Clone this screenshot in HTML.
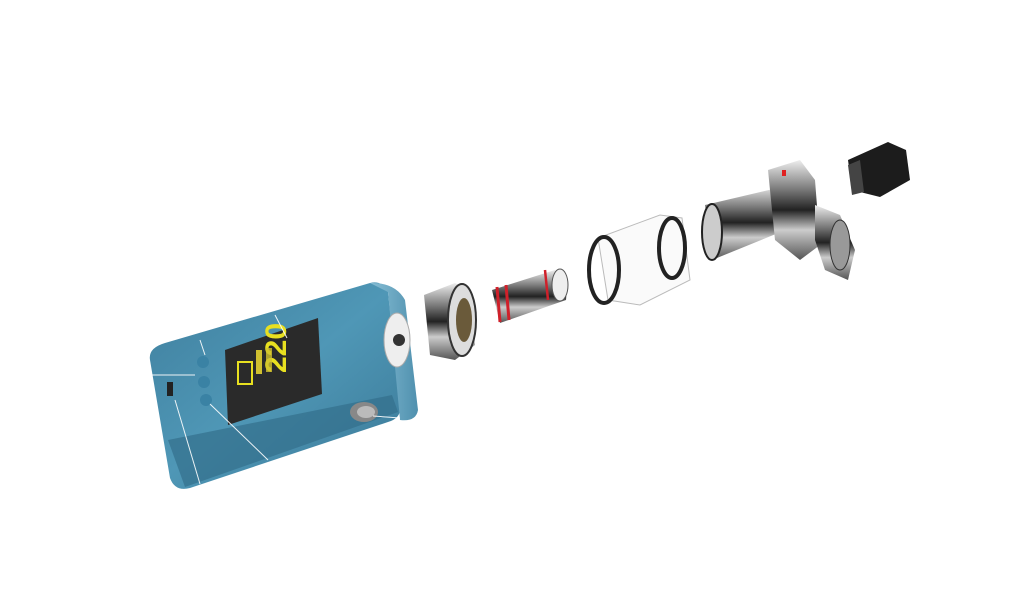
<!DOCTYPE html>
<html><head><meta charset="utf-8"><style>
html,body{margin:0;padding:0;background:#fff;width:1019px;height:602px;overflow:hidden}
svg{display:block}
</style></head><body>
<svg width="1019" height="602" viewBox="0 0 1019 602" xmlns="http://www.w3.org/2000/svg">
<defs>
<linearGradient id="body" x1="0" y1="0" x2="1" y2="1">
<stop offset="0" stop-color="#3f7f9e"/><stop offset="0.5" stop-color="#4f97b6"/><stop offset="1" stop-color="#3a7896"/></linearGradient>
<linearGradient id="side" x1="0" y1="0" x2="1" y2="0">
<stop offset="0" stop-color="#86bdd4"/><stop offset="1" stop-color="#4f90ae"/></linearGradient>
<linearGradient id="met" x1="0" y1="0" x2="0" y2="1">
<stop offset="0" stop-color="#eee"/><stop offset="0.3" stop-color="#777"/><stop offset="0.5" stop-color="#222"/><stop offset="0.7" stop-color="#ccc"/><stop offset="1" stop-color="#555"/></linearGradient>
</defs>
<path d="M150,360 Q148,348 165,343 L370,283 Q382,280 388,292 L400,405 Q402,418 388,422 L190,488 Q175,492 170,478 Z" fill="url(#body)"/>
<path d="M370,283 Q395,282 405,300 L418,410 Q416,422 400,420 L388,292 Z" fill="url(#side)"/>
<path d="M168,440 L392,395 L398,412 L185,487 Z" fill="#336f8c" opacity="0.7"/>
<path d="M225,350 L318,318 L322,394 L228,425 Z" fill="#2a2a2a"/>
<text x="0" y="0" transform="translate(286,373) rotate(-90)" font-family="Liberation Sans,sans-serif" font-weight="bold" font-size="30" fill="#e8e020">220</text>
<rect x="238" y="362" width="14" height="22" fill="none" stroke="#e8e020" stroke-width="2"/>
<rect x="256" y="350" width="6" height="24" fill="#d0c030"/>
<rect x="266" y="348" width="6" height="24" fill="#d0c030" opacity="0.8"/>
<circle cx="203" cy="362" r="6" fill="#3a82a4"/>
<circle cx="204" cy="382" r="6" fill="#3a82a4"/>
<circle cx="206" cy="400" r="6" fill="#3a82a4"/>
<rect x="167" y="382" width="6" height="14" fill="#222"/>
<ellipse cx="397" cy="340" rx="13" ry="27" fill="#eee" stroke="#aaa"/>
<circle cx="399" cy="340" r="6" fill="#333"/>
<ellipse cx="364" cy="412" rx="14" ry="10" fill="#888"/>
<ellipse cx="366" cy="412" rx="9" ry="6" fill="#bbb"/>
<g stroke="#fff" stroke-width="1" opacity="0.9">
<line x1="143" y1="375" x2="195" y2="375"/><line x1="275" y1="315" x2="287" y2="338"/>
<line x1="200" y1="340" x2="205" y2="355"/><line x1="210" y1="404" x2="268" y2="460"/>
<line x1="175" y1="400" x2="200" y2="484"/><line x1="373" y1="416" x2="400" y2="418"/>
</g>
<path d="M424,295 L455,283 L470,290 L475,345 L455,360 L430,355 Z" fill="url(#met)"/>
<ellipse cx="462" cy="320" rx="14" ry="36" fill="#ddd" stroke="#333" stroke-width="2"/>
<ellipse cx="464" cy="320" rx="8" ry="22" fill="#6a5a3a"/>
<path d="M492,290 L555,270 Q568,282 566,300 L500,323 Z" fill="url(#met)"/>
<ellipse cx="560" cy="285" rx="8" ry="16" fill="#eee" stroke="#555"/>
<path d="M497,287 L500,322 M506,285 L509,320" stroke="#d0202a" stroke-width="3" fill="none"/>
<path d="M545,270 L548,300" stroke="#d0202a" stroke-width="2.5"/>
<path d="M598,238 L660,215 L682,218 L690,280 L640,305 L608,300 Z" fill="#fafafa" stroke="#bbb"/>
<ellipse cx="604" cy="270" rx="15" ry="33" fill="none" stroke="#222" stroke-width="4"/>
<ellipse cx="672" cy="248" rx="13" ry="30" fill="none" stroke="#222" stroke-width="4"/>
<path d="M705,205 L790,185 L798,225 L712,260 Z" fill="url(#met)"/>
<ellipse cx="712" cy="232" rx="10" ry="28" fill="#ccc" stroke="#222" stroke-width="2"/>
<path d="M768,170 L800,160 L815,180 L820,245 L800,260 L775,240 Z" fill="url(#met)"/>
<rect x="782" y="170" width="4" height="6" fill="#e02020"/>
<path d="M815,205 L840,215 L855,250 L848,280 L825,270 L815,240 Z" fill="url(#met)"/>
<ellipse cx="840" cy="245" rx="10" ry="25" fill="#999" stroke="#333"/>
<path d="M848,160 L888,142 L906,150 L910,180 L880,197 L852,190 Z" fill="#1c1c1c"/>
<path d="M848,165 L860,160 L864,192 L852,195 Z" fill="#444"/>
</svg>
</body></html>
